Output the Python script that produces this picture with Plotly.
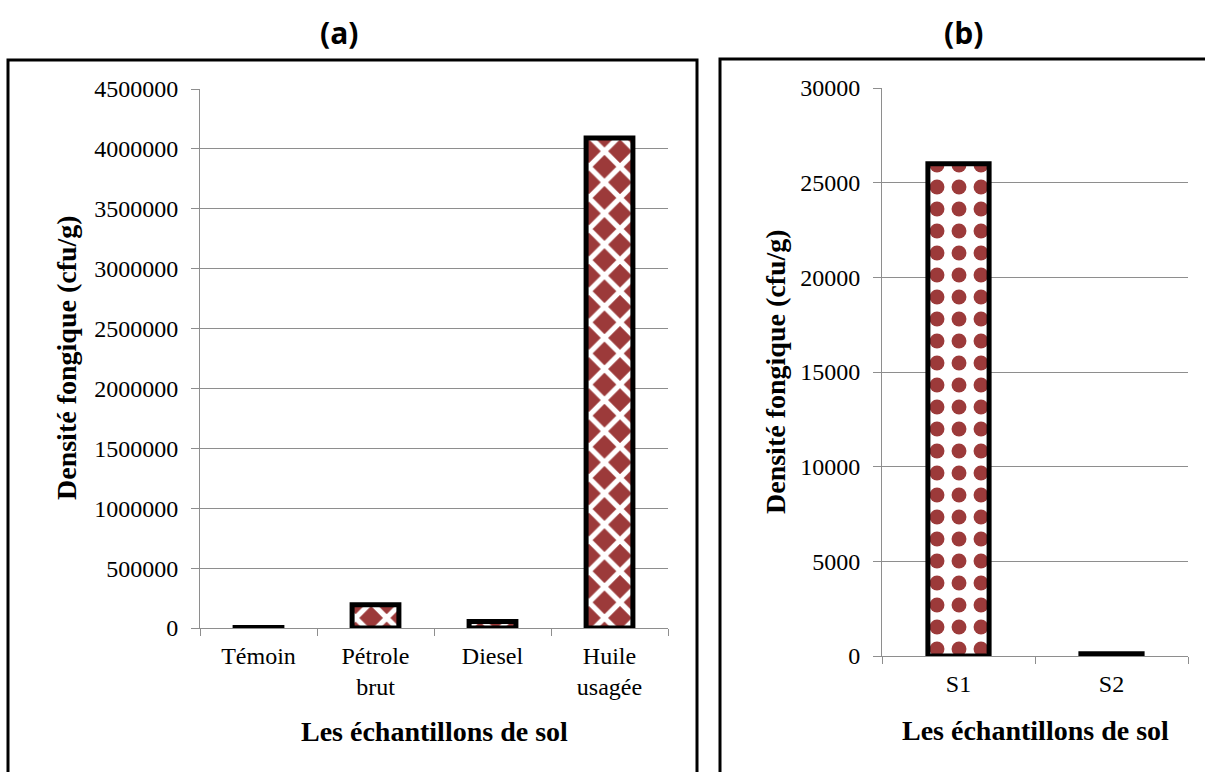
import plotly.graph_objects as go

# ---- data ----
cats_a = ["Témoin", "Pétrole<br>brut", "Diesel", "Huile<br>usagée"]
vals_a = [5000, 195000, 55000, 4090000]
cats_b = ["S1", "S2"]
vals_b = [26000, 120]

yticks_a = [0, 500000, 1000000, 1500000, 2000000, 2500000, 3000000, 3500000, 4000000, 4500000]
yticks_b = [0, 5000, 10000, 15000, 20000, 25000, 30000]

title_a = "(a)"
title_b = "(b)"
ytitle = "Densité fongique (cfu/g)"
xtitle = "Les échantillons de sol"

W, H = 1205, 772
BROWN = "#9C3A3A"
GRID = "#8E8E8E"
SERIF = "Liberation Serif, Times New Roman, serif"


def px(x):
    return x / W


def py(y):
    return 1 - y / H


fig = go.Figure()
fig.add_trace(go.Bar(
    x=cats_a, y=vals_a, xaxis="x", yaxis="y", width=0.4,
    marker=dict(color="white",
                line=dict(color="black", width=5),
                pattern=dict(shape="x", bgcolor=BROWN, fgcolor="white",
                             size=22, solidity=0.42, fillmode="replace", fgopacity=1)),
    showlegend=False, hoverinfo="x+y"))
fig.add_trace(go.Bar(
    x=cats_b, y=vals_b, xaxis="x2", yaxis="y2", width=0.4,
    marker=dict(color="white",
                line=dict(color="black", width=5),
                pattern=dict(shape=".", bgcolor="white", fgcolor=BROWN,
                             size=22, solidity=0.36, fillmode="replace", fgopacity=1)),
    showlegend=False, hoverinfo="x+y"))

tickfont = dict(family=SERIF, size=24, color="black")

xcommon = dict(type="category", showgrid=False, showline=True, linecolor=GRID, linewidth=1,
               ticks="outside", tickson="boundaries", ticklen=7, tickcolor=GRID,
               tickfont=tickfont, zeroline=False, fixedrange=True, automargin=False,
               ticklabelstandoff=6)
ycommon = dict(showgrid=True, gridcolor=GRID, gridwidth=1, showline=True, linecolor=GRID,
               linewidth=1, ticks="outside", ticklen=8, tickcolor=GRID, tickfont=tickfont,
               zeroline=False, tickformat="d", ticklabelstandoff=8, fixedrange=True,
               automargin=False)

fig.update_layout(
    template="none",
    width=W, height=H, autosize=False,
    margin=dict(l=0, r=0, t=0, b=0, pad=0, autoexpand=False),
    paper_bgcolor="white", plot_bgcolor="white",
    bargap=0.6,
    xaxis=dict(domain=[px(200), px(668)], anchor="y", **xcommon),
    yaxis=dict(domain=[py(628), py(89)], anchor="x", range=[0, 4500000],
               tickvals=yticks_a, **ycommon),
    xaxis2=dict(domain=[px(882), px(1188)], anchor="y2", **xcommon),
    yaxis2=dict(domain=[py(656), py(88)], anchor="x2", range=[0, 30000],
                tickvals=yticks_b, **ycommon),
)

# panel borders
fig.add_shape(type="rect", xref="paper", yref="paper",
              x0=px(8), x1=px(697), y0=-0.05, y1=py(60),
              line=dict(color="black", width=3), fillcolor="rgba(0,0,0,0)", layer="above")
fig.add_shape(type="rect", xref="paper", yref="paper",
              x0=px(720), x1=1.05, y0=-0.05, y1=py(59),
              line=dict(color="black", width=3), fillcolor="rgba(0,0,0,0)", layer="above")

titlefont = dict(family="Open Sans, Liberation Sans, sans-serif", size=30, color="black")
axfont = dict(family=SERIF, size=28, color="black")

ann = [
    dict(text="<b>" + title_a + "</b>", x=px(339), y=py(32), font=titlefont),
    dict(text="<b>" + title_b + "</b>", x=px(963), y=py(32), font=titlefont),
    dict(text="<b>" + ytitle + "</b>", x=px(66), y=py(358), font=axfont, textangle=-90),
    dict(text="<b>" + ytitle + "</b>", x=px(776), y=py(372), font=axfont, textangle=-90),
    dict(text="<b>" + xtitle + "</b>", x=px(434), y=py(731), font=axfont),
    dict(text="<b>" + xtitle + "</b>", x=px(1035), y=py(730), font=axfont),
]
for a in ann:
    fig.add_annotation(xref="paper", yref="paper", showarrow=False,
                       xanchor="center", yanchor="middle", **a)

fig.write_html("out.html",
               config={"displayModeBar": False},
               post_script="document.body.style.margin='0';"
                           "document.body.style.overflow='hidden';")
